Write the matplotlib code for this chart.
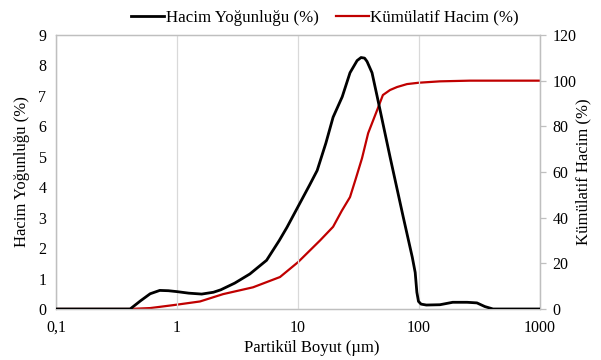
import matplotlib
matplotlib.use("Agg")
import matplotlib.pyplot as plt
from matplotlib.ticker import FixedLocator, FixedFormatter, NullLocator

plt.rcParams['font.family'] = ['Liberation Serif', 'DejaVu Serif']

# Hacim Yoğunluğu (%) - density curve
dens_size = [0.1, 0.41, 0.5, 0.6, 0.72, 0.85, 1.0, 1.25, 1.6, 2.0, 2.3, 3.0, 4.0,
             5.5, 7.0, 8.1, 10, 12.5, 14.4, 17, 19.5, 23.2, 26.9, 30.8, 33.2, 35.5,
             37.2, 40.9, 45, 57.6, 73.8, 88, 93, 96, 99, 104, 115, 149, 190, 250,
             301, 350, 409, 1000]
dens_val = [0, 0, 0.27, 0.5, 0.61, 0.6, 0.57, 0.52, 0.49, 0.55, 0.63, 0.85, 1.15,
            1.6, 2.25, 2.68, 3.36, 4.08, 4.55, 5.45, 6.3, 6.97, 7.76, 8.16, 8.26, 8.24,
            8.13, 7.76, 7.0, 5.0, 3.05, 1.7, 1.2, 0.55, 0.25, 0.16, 0.13, 0.14, 0.22,
            0.22, 0.2, 0.08, 0, 0]

# Kümülatif Hacim (%) - cumulative curve
cum_size = [0.1, 0.4, 0.6, 1.0, 1.55, 2.4, 4.25, 7.1, 10, 15.2, 19.5, 23, 26.9,
            30, 33.8, 38, 45, 50.3, 57.6, 65.8, 79.6, 100, 149, 263, 1000]
cum_val = [0, 0, 0.4, 1.9, 3.3, 6.5, 9.5, 14, 20.5, 30, 36, 43, 49,
           57, 66, 77, 87, 93.7, 95.9, 97.2, 98.5, 99.1, 99.7, 100, 100]

xticks = [0.1, 1, 10, 100, 1000]
xtick_labels = ['0,1', '1', '10', '100', '1000']
left_ticks = list(range(0, 10))
right_ticks = list(range(0, 121, 20))

fig = plt.figure(figsize=(6.01, 3.6), dpi=100)
ax = fig.add_axes([0.0932, 0.1417, 0.8053, 0.7611])
ax2 = ax.twinx()

grey = '#BFBFBF'
l1, = ax.plot(dens_size, dens_val, color='black', lw=2.0, label='Hacim Yoğunluğu (%)',
              zorder=3, solid_joinstyle='round')
l2, = ax2.plot(cum_size, cum_val, color='#C00000', lw=1.6, label='Kümülatif Hacim (%)',
               solid_joinstyle='round')

ax.set_xscale('log')
ax.set_xlim(0.1, 1000)
ax.set_ylim(0, 9)
ax2.set_ylim(0, 120)
ax.xaxis.set_major_locator(FixedLocator(xticks))
ax.xaxis.set_major_formatter(FixedFormatter(xtick_labels))
ax.xaxis.set_minor_locator(NullLocator())
ax.set_yticks(left_ticks)
ax2.set_yticks(right_ticks)
ax.grid(axis='x', color='#D9D9D9', lw=0.9)
ax.set_axisbelow(True)

for a in (ax, ax2):
    for s in a.spines.values():
        s.set_color(grey)
        s.set_linewidth(0.9)

ax.tick_params(axis='x', which='both', length=0, labelsize=11.5, pad=8)
ax.tick_params(axis='y', which='both', length=0, labelsize=11.5, pad=7)
ax2.tick_params(axis='y', length=4, color=grey, width=0.9, labelsize=11.5, pad=5)

ax.set_xlabel('Partikül Boyut (µm)', fontsize=12)
ax.xaxis.set_label_coords(0.529, -0.113)
ax.set_ylabel('Hacim Yoğunluğu (%)', fontsize=12, labelpad=6)
ax2.set_ylabel('Kümülatif Hacim (%)', fontsize=12, labelpad=-1)

# put black above red
ax.set_zorder(ax2.get_zorder() + 1)
ax.patch.set_visible(False)

fig.legend(handles=[l1, l2], loc='upper center', bbox_to_anchor=(0.541, 1.015),
           ncol=2, frameon=False, fontsize=12.2, handlelength=1.95,
           handletextpad=0.1, columnspacing=1.0)

fig.savefig('out.png', dpi=100)
